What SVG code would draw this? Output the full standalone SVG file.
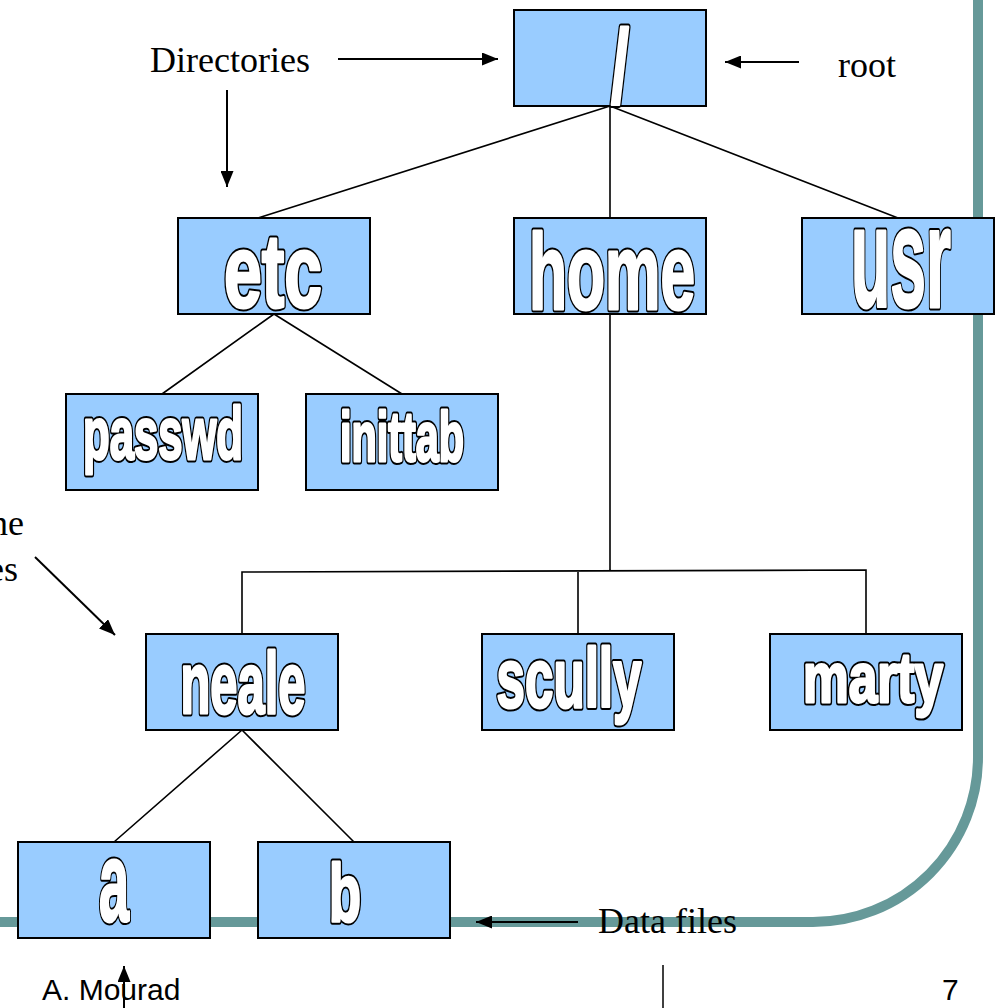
<svg xmlns="http://www.w3.org/2000/svg" xmlns:xlink="http://www.w3.org/1999/xlink" width="995" height="1008" viewBox="0 0 995 1008">
<style>
.box{fill:#99CCFF;stroke:#000;stroke-width:2}
.wa{font-family:"Liberation Sans",Arial,sans-serif;font-weight:bold;text-anchor:middle}
.o{fill:#000;stroke:#000;stroke-width:7;stroke-linejoin:round}
.f{fill:#fff;stroke:#fff;stroke-width:3;stroke-linejoin:round}
.edge{fill:none;stroke:#000;stroke-width:1.6}
.arr{fill:none;stroke:#000;stroke-width:2}
.note{font-family:"Liberation Serif","Times New Roman",serif;font-size:36px;fill:#000}
.foot{font-family:"Liberation Sans",Arial,sans-serif;font-size:30px;fill:#000}
</style>
<defs>
<marker id="ah2" viewBox="0 0 10 10" refX="10" refY="5" markerWidth="16" markerHeight="13" markerUnits="userSpaceOnUse" orient="auto" preserveAspectRatio="none">
<path d="M0,0 L10,5 L0,10 z" fill="#000"/>
</marker>
<text id="t-root" class="wa" x="620" y="102" font-size="104" textLength="18" lengthAdjust="spacingAndGlyphs">/</text>
<text id="t-etc" class="wa" x="273" y="307" font-size="104" textLength="98" lengthAdjust="spacingAndGlyphs">etc</text>
<text id="t-home" class="wa" x="612" y="309" font-size="108" textLength="166" lengthAdjust="spacingAndGlyphs">home</text>
<text id="t-usr" class="wa" x="901" y="307" font-size="142" textLength="100" lengthAdjust="spacingAndGlyphs">usr</text>
<text id="t-passwd" class="wa" x="163" y="459" font-size="74" textLength="160" lengthAdjust="spacingAndGlyphs">passwd</text>
<text id="t-inittab" class="wa" x="402" y="461" font-size="71" textLength="124" lengthAdjust="spacingAndGlyphs">inittab</text>
<text id="t-neale" class="wa" x="243" y="713" font-size="87" textLength="125" lengthAdjust="spacingAndGlyphs">neale</text>
<text id="t-scully" class="wa" x="569" y="707" font-size="84" textLength="145" lengthAdjust="spacingAndGlyphs">scully</text>
<text id="t-marty" class="wa" x="873" y="702" font-size="71" textLength="140" lengthAdjust="spacingAndGlyphs">marty</text>
<text id="t-a" class="wa" x="114" y="921" font-size="113" textLength="30" lengthAdjust="spacingAndGlyphs">a</text>
<text id="t-b" class="wa" x="345" y="921" font-size="81" textLength="32" lengthAdjust="spacingAndGlyphs">b</text>
</defs>
<rect width="995" height="1008" fill="#fff"/>
<path d="M978 0 V757 A165 165 0 0 1 813 922 H0" fill="none" stroke="#669999" stroke-width="10"/>
<g id="connectors">
<path class="edge" d="M610 106 L258 218 M610 106 V218 M610 106 L898 218"/>
<path class="edge" d="M274 314 L162 394 M274 314 L402 394"/>
<path class="edge" d="M610 314 V571 M242 634 V572 L866 570 V634 M578 571 V634"/>
<path class="edge" d="M242 730 L114 842 M242 730 L354 842"/>
</g>
<g id="annotations">
<text class="note" x="150" y="72">Directories</text>
<line class="arr" x1="338" y1="59" x2="498" y2="59" marker-end="url(#ah2)"/>
<line class="arr" x1="227" y1="90" x2="227" y2="187" marker-end="url(#ah2)"/>
<text class="note" x="838" y="77">root</text>
<line class="arr" x1="799" y1="62" x2="725" y2="62" marker-end="url(#ah2)"/>
<text class="note" x="24" y="535" text-anchor="end">ne</text>
<text class="note" x="18" y="581" text-anchor="end">es</text>
<line class="arr" x1="35" y1="557" x2="115" y2="635" marker-end="url(#ah2)"/>
<line class="arr" x1="578" y1="922" x2="476" y2="922" marker-end="url(#ah2)"/>
</g>
<g id="root"><rect class="box" x="514" y="10" width="192" height="96"/><use xlink:href="#t-root" class="o"/><use xlink:href="#t-root" class="f"/></g>
<g id="etc"><rect class="box" x="178" y="218" width="192" height="96"/><use xlink:href="#t-etc" class="o"/><use xlink:href="#t-etc" class="f"/></g>
<g id="home"><rect class="box" x="514" y="218" width="192" height="96"/><use xlink:href="#t-home" class="o"/><use xlink:href="#t-home" class="f"/></g>
<g id="usr"><rect class="box" x="802" y="218" width="192" height="96"/><use xlink:href="#t-usr" class="o"/><use xlink:href="#t-usr" class="f"/></g>
<g id="passwd"><rect class="box" x="66" y="394" width="192" height="96"/><use xlink:href="#t-passwd" class="o"/><use xlink:href="#t-passwd" class="f"/></g>
<g id="inittab"><rect class="box" x="306" y="394" width="192" height="96"/><use xlink:href="#t-inittab" class="o"/><use xlink:href="#t-inittab" class="f"/></g>
<g id="neale"><rect class="box" x="146" y="634" width="192" height="96"/><use xlink:href="#t-neale" class="o"/><use xlink:href="#t-neale" class="f"/></g>
<g id="scully"><rect class="box" x="482" y="634" width="192" height="96"/><use xlink:href="#t-scully" class="o"/><use xlink:href="#t-scully" class="f"/></g>
<g id="marty"><rect class="box" x="770" y="634" width="192" height="96"/><use xlink:href="#t-marty" class="o"/><use xlink:href="#t-marty" class="f"/></g>
<g id="a"><rect class="box" x="18" y="842" width="192" height="96"/><use xlink:href="#t-a" class="o"/><use xlink:href="#t-a" class="f"/></g>
<g id="b"><rect class="box" x="258" y="842" width="192" height="96"/><use xlink:href="#t-b" class="o"/><use xlink:href="#t-b" class="f"/></g>
<text class="note" x="598" y="933">Data files</text>
<g id="footer">
<text class="foot" x="42" y="1000">A. Mourad</text>
<line class="arr" x1="124" y1="1008" x2="124" y2="966" marker-end="url(#ah2)"/>
<line x1="663" y1="965" x2="663" y2="1008" stroke="#000" stroke-width="1.5"/>
<text class="foot" x="942" y="1000">7</text>
</g>
</svg>
